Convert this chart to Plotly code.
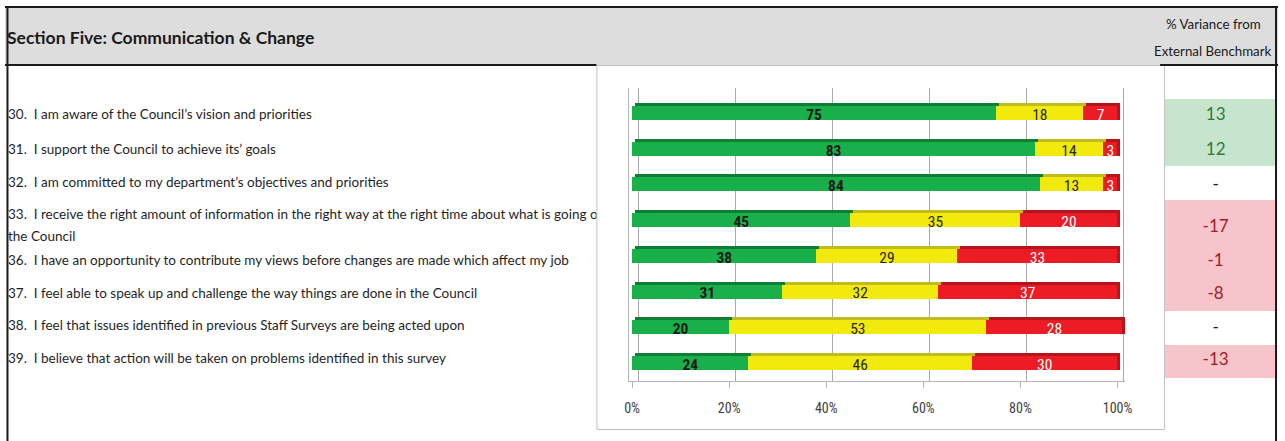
import plotly.graph_objects as go

W, H = 1285, 441

# ---- data -------------------------------------------------------------
statements = [
    "30.\u00a0 I am aware of the Council’s vision and priorities",
    "31.\u00a0 I support the Council to achieve its’ goals",
    "32.\u00a0 I am committed to my department’s objectives and priorities",
    "33.\u00a0 I receive the right amount of information in the right way at the right time about what is going on|the Council",
    "36.\u00a0 I have an opportunity to contribute my views before changes are made which affect my job",
    "37.\u00a0 I feel able to speak up and challenge the way things are done in the Council",
    "38.\u00a0 I feel that issues identified in previous Staff Surveys are being acted upon",
    "39.\u00a0 I believe that action will be taken on problems identified in this survey",
]
positive = [75, 83, 84, 45, 38, 31, 20, 24]
neutral = [18, 14, 13, 35, 29, 32, 53, 46]
negative = [7, 3, 3, 20, 33, 37, 28, 30]
variance = [13, 12, None, -17, -1, -8, None, -13]

tick_vals = [0, 20, 40, 60, 80, 100]
tick_text = ["0%", "20%", "40%", "60%", "80%", "100%"]

# ---- layout constants (pixels from top-left) --------------------------
PX_PER_PCT = 4.9
PLOT_L, PLOT_R = 630, 1131          # bar plot area
PLOT_T, PLOT_B = 88, 381
ROW0, ROW_STEP = 113, 35.7          # centre of first bar body, row pitch
BODY_H, FACE = 14, 3                # bar body height, depth of 3-D face
ZERO_FRONT, ZERO_SHADOW, ZERO_BACK = 633, 636, 639

# statement / variance row layout
stmt_y = [116, 151, 184, 216, 262, 295, 327, 360]
stmt_line = 22
cell_bounds = [99, 133, 166, 200, 245, 278, 311, 345, 378]
var_y = [116, 151, 186, 228, 262, 295, 329, 361]

GREEN, GREEN_D = "#19b04b", "#0f7d36"
YELLOW, YELLOW_D = "#f2e90d", "#c2bb1c"
RED, RED_D = "#ed1c24", "#b4151c"

NARROW = "Liberation Sans Narrow, Roboto Condensed, Arial Narrow, Liberation Sans, sans-serif"
HUMANIST = "Lato, Open Sans, sans-serif"


def px(x):
    return x / W


def py(y):
    return 1 - y / H


def pct_range(zero_px):
    return [(PLOT_L - zero_px) / PX_PER_PCT, (PLOT_R - zero_px) / PX_PER_PCT]


rows = list(range(len(positive)))
row_span_top = (PLOT_T - ROW0) / ROW_STEP
row_span_bot = (PLOT_B - ROW0) / ROW_STEP

fig = go.Figure()

# back wall of the chart: carries the (offset) vertical gridlines
fig.add_trace(go.Scatter(x=[], y=[], mode="markers", xaxis="x", yaxis="y",
                         hoverinfo="skip", showlegend=False))

segments = [
    ("Positive", positive, GREEN, GREEN_D, "#1a1a1a", "bold"),
    ("Neutral", neutral, YELLOW, YELLOW_D, "#262626", "normal"),
    ("Negative", negative, RED, RED_D, "#ffffff", "normal"),
]

bases = []
running = [0] * len(rows)
for _, vals, *_rest in segments:
    bases.append(list(running))
    running = [r + v for r, v in zip(running, vals)]

# 3-D depth faces (drawn behind the bar bodies, shifted up and right)
for (name, vals, col, dark, _, _), base in zip(segments, bases):
    fig.add_trace(go.Bar(
        orientation="h", y=[r - (FACE / 2) / ROW_STEP for r in rows], x=vals, base=base,
        width=(BODY_H + FACE) / ROW_STEP, marker=dict(color=dark, line=dict(width=0)),
        xaxis="x2", yaxis="y", hoverinfo="skip", showlegend=False,
    ))

# bar bodies
for (name, vals, col, dark, _, _), base in zip(segments, bases):
    fig.add_trace(go.Bar(
        orientation="h", y=rows, x=vals, base=base, name=name,
        width=BODY_H / ROW_STEP, marker=dict(color=col, line=dict(width=0)),
        xaxis="x3", yaxis="y", showlegend=False,
    ))

# value labels at segment centres
for (name, vals, col, dark, tcol, weight), base in zip(segments, bases):
    fig.add_trace(go.Scatter(
        x=[b + v / 2 for b, v in zip(base, vals)], y=[r + 3 / ROW_STEP for r in rows],
        mode="text", text=[str(v) for v in vals],
        textfont=dict(family=NARROW, size=15.5, color=tcol, weight=weight),
        xaxis="x3", yaxis="y", hoverinfo="skip", showlegend=False, cliponaxis=False,
    ))

# variance cells
cell_x, cell_yc, cell_h, cell_c = [], [], [], []
for i, v in enumerate(variance):
    top, bot = cell_bounds[i], cell_bounds[i + 1]
    cell_x.append(1)
    cell_yc.append((top + bot) / 2)
    cell_h.append(bot - top)
    if v is None:
        cell_c.append("rgba(0,0,0,0)")
    elif v > 0:
        cell_c.append("#c7e5cd")
    else:
        cell_c.append("#f8c4cc")
fig.add_trace(go.Bar(
    orientation="h", y=cell_yc, x=cell_x, base=0, width=cell_h,
    marker=dict(color=cell_c, line=dict(width=0)),
    xaxis="x4", yaxis="y4", hoverinfo="skip", showlegend=False,
))
var_text, var_col = [], []
for v in variance:
    if v is None:
        var_text.append("-")
        var_col.append("#1a1a1a")
    else:
        var_text.append(str(v))
        var_col.append("#2f7a3a" if v > 0 else "#a01c26")
fig.add_trace(go.Scatter(
    x=[0.46] * len(variance), y=var_y, mode="text", text=var_text,
    textfont=dict(family=HUMANIST, size=17, color=var_col),
    xaxis="x4", yaxis="y4", hoverinfo="skip", showlegend=False, cliponaxis=False,
))

# statements (clipped at the chart box)
sx, sy, st = [], [], []
for s, y in zip(statements, stmt_y):
    for j, line in enumerate(s.split("|")):
        sx.append(3)
        sy.append(y + j * stmt_line)
        st.append(line)
fig.add_trace(go.Scatter(
    x=sx, y=sy, mode="text", text=st, textposition="middle right",
    textfont=dict(family=HUMANIST, size=13.5, color="#1f1f1f"),
    xaxis="x5", yaxis="y5", hoverinfo="skip", showlegend=False, cliponaxis=True,
))

plot_dom_x = [px(PLOT_L), px(PLOT_R)]
plot_dom_y = [py(PLOT_B), py(PLOT_T)]

fig.update_layout(
    width=W, height=H, margin=dict(l=0, r=0, t=0, b=0),
    paper_bgcolor="white", plot_bgcolor="rgba(0,0,0,0)",
    barmode="overlay", bargap=0,
    xaxis=dict(domain=plot_dom_x, range=pct_range(ZERO_BACK), tickmode="array",
               tickvals=tick_vals, showticklabels=False, ticks="",
               showgrid=True, gridcolor="#a9a9a9", gridwidth=1,
               zeroline=False, showline=False, anchor="y"),
    xaxis2=dict(overlaying="x", domain=plot_dom_x, range=pct_range(ZERO_SHADOW),
                visible=False, anchor="y"),
    xaxis3=dict(overlaying="x", domain=plot_dom_x, range=pct_range(ZERO_FRONT),
                tickvals=tick_vals, ticktext=tick_text, showgrid=False, zeroline=False,
                side="bottom", showline=True, linecolor="#b5b5b5", linewidth=1,
                ticks="outside", ticklen=6, tickcolor="#b5b5b5",
                ticklabelstandoff=8,
                tickfont=dict(family=NARROW, size=14, color="#404040"), anchor="y"),
    yaxis=dict(domain=plot_dom_y, range=[row_span_bot, row_span_top], visible=True,
               showticklabels=False, showgrid=False, zeroline=False,
               showline=True, linecolor="#b5b5b5", linewidth=1, anchor="x"),
    xaxis4=dict(domain=[px(1171), px(1282)], range=[0, 1], visible=False, anchor="y4"),
    yaxis4=dict(domain=[0, 1], range=[H, 0], visible=False, anchor="x4"),
    xaxis5=dict(domain=[0, px(597)], range=[0, 597], visible=False, anchor="y5"),
    yaxis5=dict(domain=[0, 1], range=[H, 0], visible=False, anchor="x5"),
)

shapes = [
    # header band
    dict(type="rect", xref="paper", yref="paper", x0=px(0), x1=px(1285), y0=py(65), y1=py(7),
         fillcolor="#dddddd", line=dict(width=0), layer="below"),
    # chart box
    dict(type="rect", xref="paper", yref="paper", x0=px(597.5), x1=px(1170.5), y0=py(429.5), y1=py(65.5),
         fillcolor="white", line=dict(color="#c0c0c0", width=1), layer="below"),
    # frame lines
    dict(type="line", xref="paper", yref="paper", x0=0, x1=1, y0=py(7), y1=py(7),
         line=dict(color="#1a1a1a", width=2)),
    dict(type="line", xref="paper", yref="paper", x0=px(2.5), x1=px(2.5), y0=py(7), y1=0,
         line=dict(color="#1a1a1a", width=2)),
    dict(type="line", xref="paper", yref="paper", x0=px(1283), x1=px(1283), y0=py(7), y1=0,
         line=dict(color="#1a1a1a", width=2)),
    dict(type="line", xref="paper", yref="paper", x0=0, x1=px(597), y0=py(65), y1=py(65),
         line=dict(color="#1a1a1a", width=2)),
    dict(type="line", xref="paper", yref="paper", x0=px(1166), x1=1, y0=py(65), y1=py(65),
         line=dict(color="#1a1a1a", width=2)),
]
fig.update_layout(shapes=shapes)

fig.update_layout(annotations=[
    dict(text="<b>Section Five: Communication &amp; Change</b>", xref="paper", yref="paper",
         x=px(0), y=py(38), xanchor="left", yanchor="middle", showarrow=False,
         font=dict(family=HUMANIST, size=17.5, color="#1a1a1a")),
    dict(text="% Variance from", xref="paper", yref="paper",
         x=px(1220), y=py(24), xanchor="center", yanchor="middle", showarrow=False,
         font=dict(family=HUMANIST, size=13.3, color="#1a1a1a")),
    dict(text="External Benchmark", xref="paper", yref="paper",
         x=px(1219), y=py(51), xanchor="center", yanchor="middle", showarrow=False,
         font=dict(family=HUMANIST, size=13.3, color="#1a1a1a")),
])

fig.write_html("out.html")
